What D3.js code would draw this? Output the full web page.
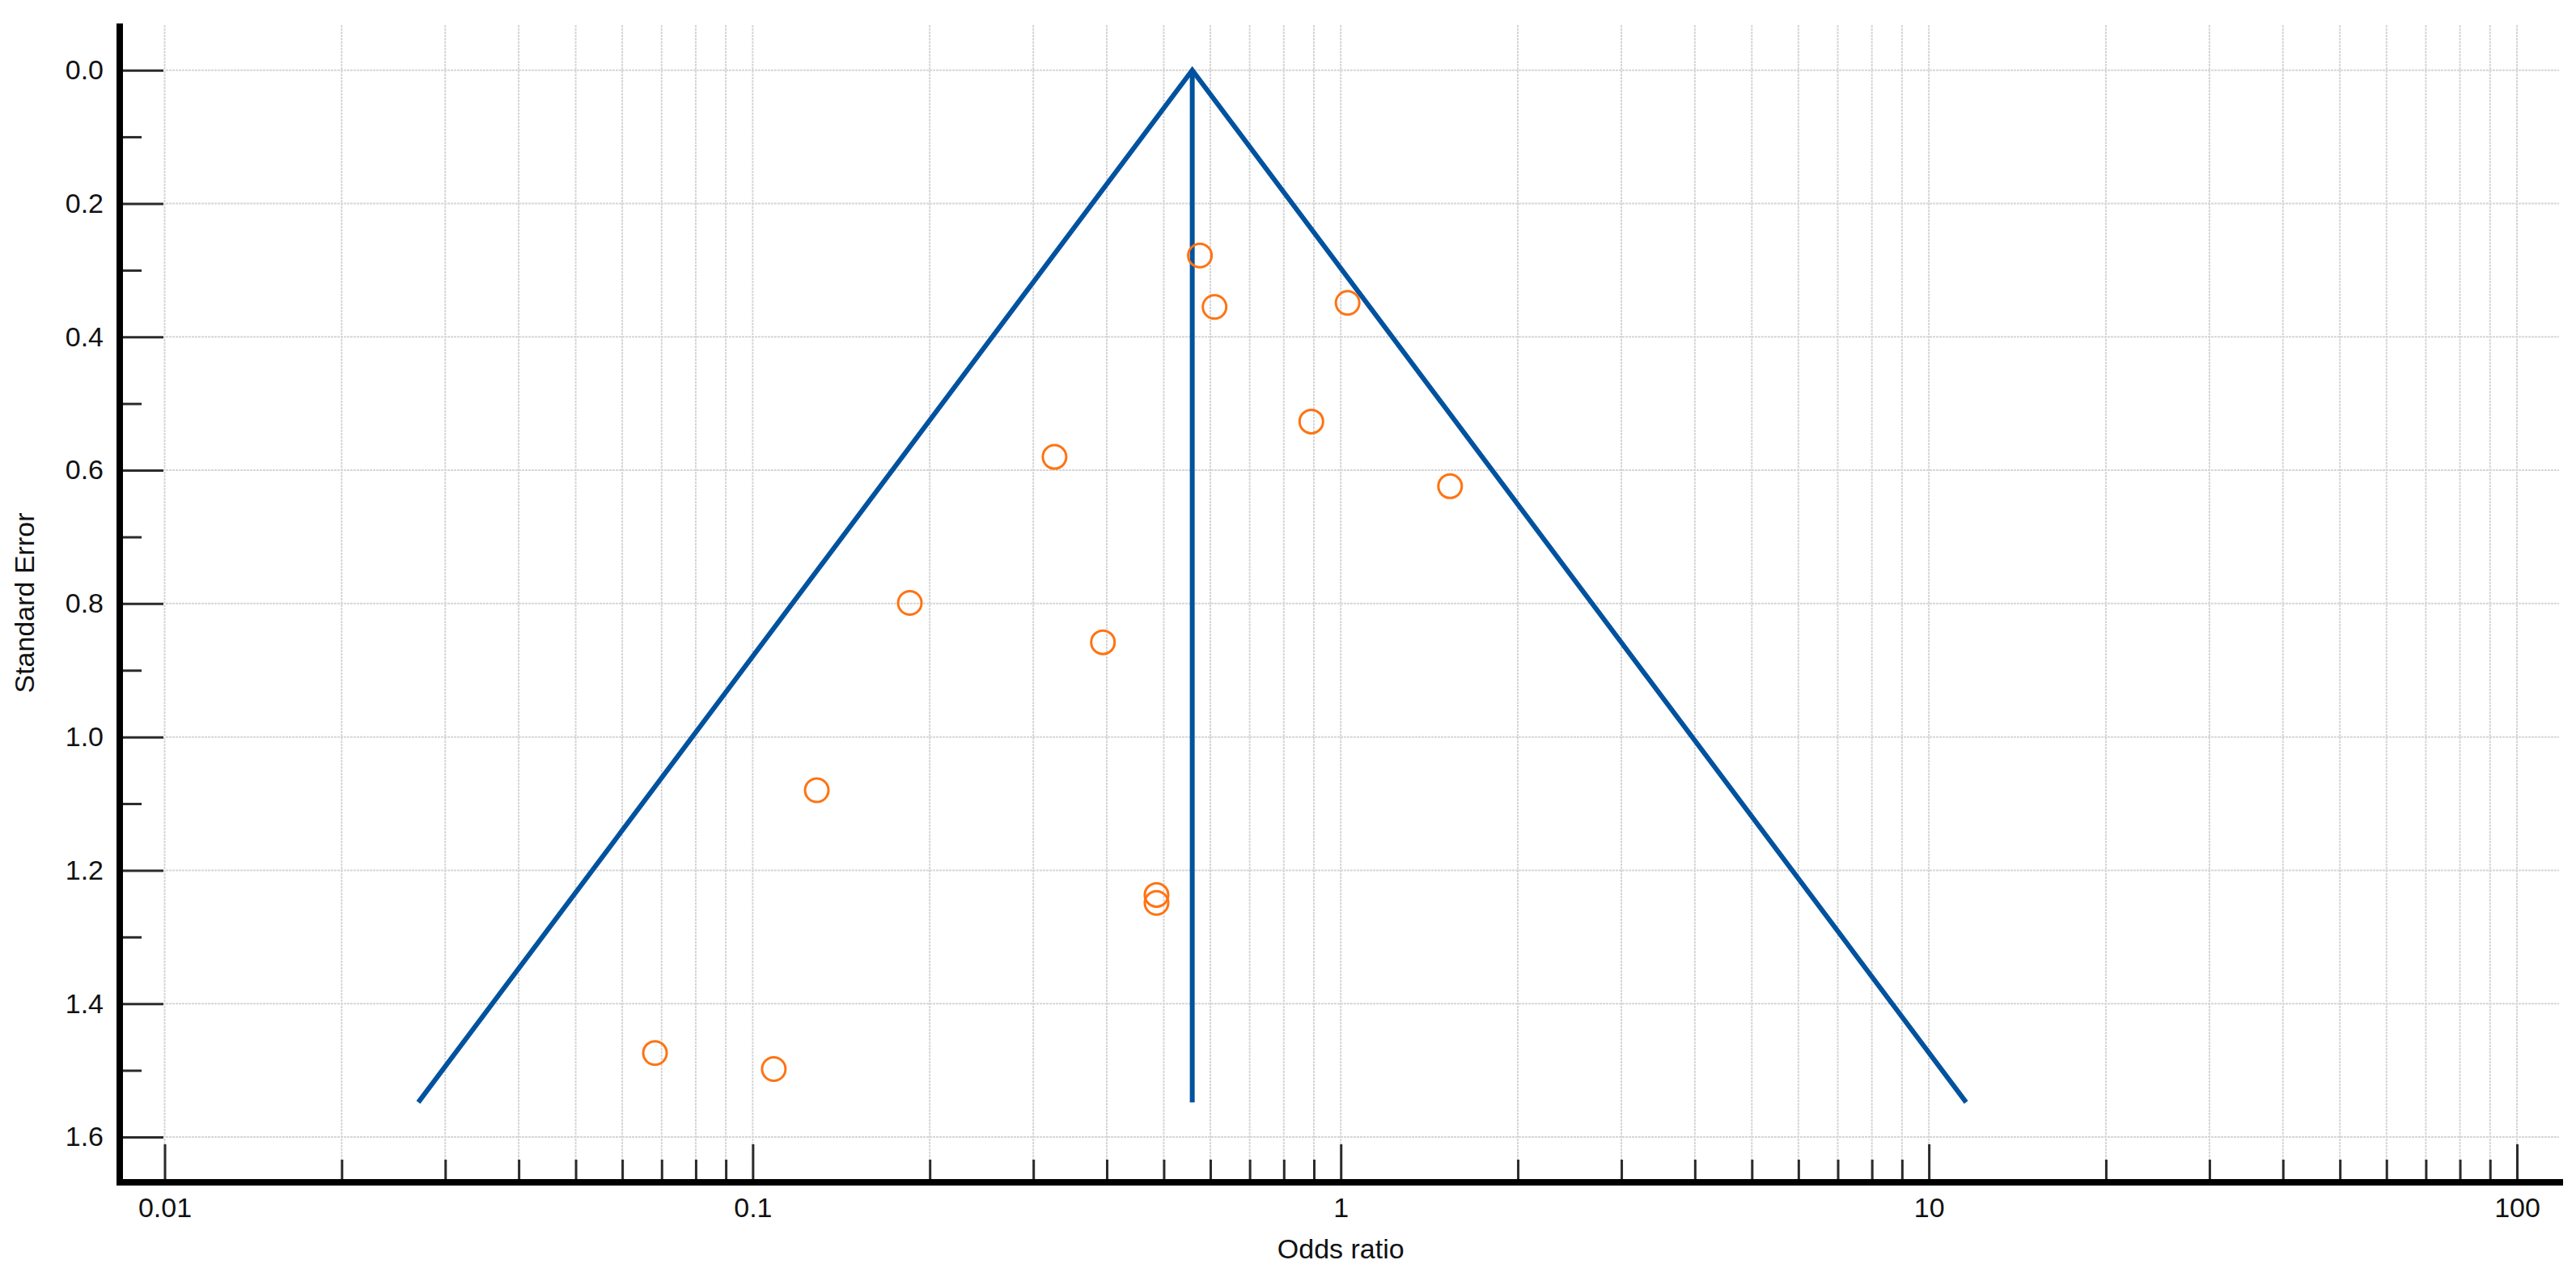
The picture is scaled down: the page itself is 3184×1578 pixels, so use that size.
<!DOCTYPE html>
<html>
<head>
<meta charset="utf-8">
<script src="https://cdn.jsdelivr.net/npm/d3@7"></script>
<style>
  body { margin: 0; background: #fff; }
  text { font-family: "Liberation Sans", Arial, sans-serif; fill: #111; }
</style>
</head>
<body>
<div id="viz"></div>
<script>
// studies: odds ratio and standard error
var oddsRatio = [0.576, 0.610, 1.027, 0.326, 0.891, 1.534, 0.185, 0.394, 0.1285, 0.486, 0.486, 0.0682, 0.1086];
var stdError  = [0.278, 0.355, 0.349, 0.580, 0.527, 0.624, 0.799, 0.858, 1.080, 1.237, 1.249, 1.474, 1.498];

// funnel (pseudo 95% limits) and pooled estimate
var funnelOR = [0.0270, 0.559, 11.57];
var funnelSE = [1.548, 0, 1.548];
var pooledOR = 0.559;
var pooledSEmax = 1.548;

// ticks
var yMajor = [0, 0.2, 0.4, 0.6, 0.8, 1.0, 1.2, 1.4, 1.6];
var yMinor = [0.1, 0.3, 0.5, 0.7, 0.9, 1.1, 1.3, 1.5];
var xMajor = [0.01, 0.1, 1, 10, 100];
var xMinor = [0.02, 0.03, 0.04, 0.05, 0.06, 0.07, 0.08, 0.09,
              0.2, 0.3, 0.4, 0.5, 0.6, 0.7, 0.8, 0.9,
              2, 3, 4, 5, 6, 7, 8, 9,
              20, 30, 40, 50, 60, 70, 80, 90];

var width = 3184,
    height = 1578;

var axisX = 148,      // centre of the vertical axis line
    axisY = 1461,     // centre of the horizontal axis line
    axisW = 8;

var x = d3.scaleLog().domain([0.01, 100]).range([203.5, 3111]);
var y = d3.scaleLinear().domain([0, 1.6]).range([86.7, 1405]);

var svg = d3.select("#viz").append("svg")
    .attr("width", width)
    .attr("height", height);

// grid
var grid = svg.append("g")
    .style("stroke", "#d6d6d6")
    .style("stroke-width", 2)
    .style("stroke-dasharray", "3,1");

grid.selectAll(".hgrid")
    .data(yMajor)
    .enter().append("line")
    .attr("x1", 205)
    .attr("x2", 3163)
    .attr("y1", function(d) { return y(d); })
    .attr("y2", function(d) { return y(d); });

grid.selectAll(".vgrid")
    .data(xMajor.concat(xMinor))
    .enter().append("line")
    .attr("x1", function(d) { return x(d); })
    .attr("x2", function(d) { return x(d); })
    .attr("y1", 31)
    .attr("y2", axisY - axisW / 2);

// y axis (ticks point into the plot)
var yAxis = svg.append("g")
    .attr("transform", "translate(" + (axisX + axisW / 2) + ",0)")
    .call(d3.axisLeft(y)
        .tickValues(yMajor)
        .tickSizeInner(-50)
        .tickSizeOuter(0)
        .tickPadding(24)
        .tickFormat(d3.format(".1f")));

var yAxisMinor = svg.append("g")
    .attr("transform", "translate(" + (axisX + axisW / 2) + ",0)")
    .call(d3.axisLeft(y)
        .tickValues(yMinor)
        .tickSizeInner(-23)
        .tickSizeOuter(0)
        .tickFormat(""));

// x axis
var xAxis = svg.append("g")
    .attr("transform", "translate(0," + (axisY - axisW / 2) + ")")
    .call(d3.axisBottom(x)
        .tickValues(xMajor)
        .tickSizeInner(-43)
        .tickSizeOuter(0)
        .tickPadding(23)
        .tickFormat(function(d) { return String(d); }));

var xAxisMinor = svg.append("g")
    .attr("transform", "translate(0," + (axisY - axisW / 2) + ")")
    .call(d3.axisBottom(x)
        .tickValues(xMinor)
        .tickSizeInner(-24)
        .tickSizeOuter(0)
        .tickFormat(""));

[yAxis, yAxisMinor, xAxis, xAxisMinor].forEach(function(g) {
    g.select(".domain").remove();
    g.selectAll(".tick line")
        .style("stroke", "#2b2b2b")
        .style("stroke-width", 3);
    g.selectAll(".tick text")
        .style("font-size", "34px")
        .style("font-family", "'Liberation Sans', Arial, sans-serif")
        .style("fill", "#111");
});

// thick axis lines
svg.append("line")
    .style("stroke", "#000")
    .style("stroke-width", axisW)
    .attr("x1", axisX)
    .attr("x2", axisX)
    .attr("y1", 29)
    .attr("y2", axisY + axisW / 2);

svg.append("line")
    .style("stroke", "#000")
    .style("stroke-width", axisW)
    .attr("x1", axisX - axisW / 2)
    .attr("x2", 3168)
    .attr("y1", axisY)
    .attr("y2", axisY);

// axis titles
svg.append("text")
    .attr("x", x(1))
    .attr("y", 1555)
    .attr("text-anchor", "middle")
    .style("font-size", "34px")
    .text("Odds ratio");

svg.append("text")
    .attr("transform", "translate(42," + 745 + ") rotate(-90)")
    .attr("text-anchor", "middle")
    .style("font-size", "34px")
    .text("Standard Error");

// funnel
var funnelLine = d3.line()
    .x(function(d, i) { return x(funnelOR[i]); })
    .y(function(d, i) { return y(funnelSE[i]); });

svg.append("path")
    .datum(funnelOR)
    .attr("d", funnelLine)
    .style("fill", "none")
    .style("stroke", "#00529f")
    .style("stroke-width", 6)
    .style("stroke-linejoin", "miter");

svg.append("line")
    .style("stroke", "#00529f")
    .style("stroke-width", 6)
    .attr("x1", x(pooledOR))
    .attr("x2", x(pooledOR))
    .attr("y1", y(0))
    .attr("y2", y(pooledSEmax));

// studies
svg.selectAll(".study")
    .data(oddsRatio)
    .enter().append("circle")
    .attr("class", "study")
    .attr("cx", function(d) { return x(d); })
    .attr("cy", function(d, i) { return y(stdError[i]); })
    .attr("r", 14.5)
    .style("fill", "none")
    .style("stroke", "#ff7312")
    .style("stroke-width", 3);
</script>
</body>
</html>
